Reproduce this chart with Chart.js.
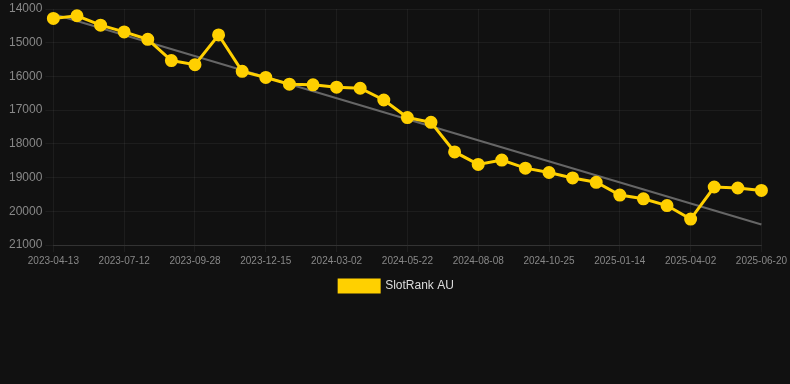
<!DOCTYPE html>
<html lang="en">
<head>
    <meta charset="UTF-8">
    <title>SlotRank AU</title>
    <script src="https://cdn.jsdelivr.net/npm/chart.js"></script>
    <style>
        body { margin: 0; background-color: #111111; font-family: 'Liberation Sans', Arial, sans-serif; }
        #chart-box { position: relative; width: 790px; height: 302px; }
    </style>
</head>
<body>
<div id="chart-box"><canvas id="rank-chart"></canvas></div>

<script>
const dates = [
    "2023-04-13", "2023-05-13", "2023-06-12", "2023-07-12", "2023-08-07", "2023-09-02",
    "2023-09-28", "2023-10-24", "2023-11-19", "2023-12-15", "2024-01-10", "2024-02-05",
    "2024-03-02", "2024-03-29", "2024-04-25", "2024-05-22", "2024-06-17", "2024-07-13",
    "2024-08-08", "2024-09-03", "2024-09-29", "2024-10-25", "2024-11-21", "2024-12-18",
    "2025-01-14", "2025-02-09", "2025-03-07", "2025-04-02", "2025-04-28", "2025-05-24",
    "2025-06-20"
];

const rankAU = [
    14280, 14200, 14480, 14680, 14900, 15530, 15650, 14770, 15850, 16030, 16230,
    16250, 16320, 16350, 16700, 17220, 17360, 18240, 18610, 18480, 18720, 18850,
    19010, 19140, 19520, 19630, 19830, 20230, 19280, 19310, 19380
];

// trend line, read at its two ends only
const trendStart = 14150;
const trendEnd = 20390;
const trend = dates.map((d, i) => i === 0 ? trendStart : (i === dates.length - 1 ? trendEnd : null));

const yTicks = [14000, 15000, 16000, 17000, 18000, 19000, 20000, 21000];

Chart.defaults.font.family = "'Liberation Sans', Arial, sans-serif";

new Chart(document.getElementById('rank-chart'), {
    type: 'line',
    data: {
        labels: dates,
        datasets: [
            {
                label: 'SlotRank AU',
                data: rankAU,
                borderColor: '#ffd000',
                backgroundColor: '#ffd000',
                borderWidth: 3,
                pointRadius: 5,
                pointHoverRadius: 6,
                pointBackgroundColor: '#ffd000',
                pointBorderColor: '#ffd000',
                tension: 0,
                order: 1
            },
            {
                label: 'trend',
                data: trend,
                borderColor: '#666666',
                borderWidth: 2,
                pointRadius: 0,
                spanGaps: true,
                order: 2
            }
        ]
    },
    options: {
        responsive: true,
        maintainAspectRatio: false,
        animation: false,
        layout: { padding: { left: 6, right: 3, top: 0, bottom: 0 } },
        scales: {
            x: {
                grid: { color: 'rgba(255,255,255,0.05)', tickLength: 7 },
                border: { color: 'rgba(255,255,255,0.1)' },
                ticks: {
                    color: '#888888',
                    font: { size: 10 },
                    maxRotation: 0,
                    autoSkip: false,
                    callback: function(val, idx) { return idx % 3 === 0 ? dates[idx] : null; }
                }
            },
            y: {
                reverse: true,
                min: 14000,
                max: 21000,
                afterBuildTicks: axis => { axis.ticks = yTicks.map(v => ({ value: v })); },
                grid: { color: 'rgba(255,255,255,0.05)' },
                border: { display: false },
                ticks: { color: '#888888', font: { size: 12, lineHeight: 0.4 }, callback: v => String(v) }
            }
        },
        plugins: {
            legend: {
                position: 'bottom',
                labels: {
                    color: '#dddddd',
                    font: { size: 12 },
                    boxWidth: 40,
                    boxHeight: 12,
                    filter: item => item.text !== 'trend'
                }
            },
            tooltip: { enabled: false }
        }
    }
});
</script>
</body>
</html>
